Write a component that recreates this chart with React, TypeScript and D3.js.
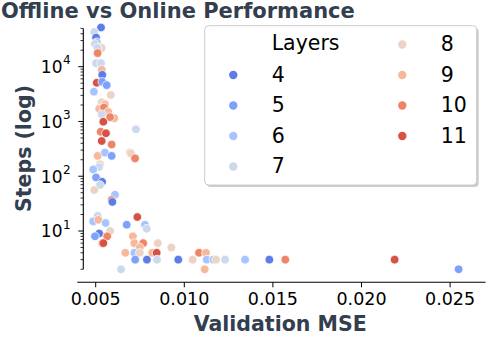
import React from "react";
import * as d3 from "d3";

const title = "Offline vs Online Performance";
const xLabel = "Validation MSE";
const yLabel = "Steps (log)";
const legendTitle = "Layers";
const layerLevels = [4, 5, 6, 7, 8, 9, 10, 11];
const layerColors = ["#5d7ce6", "#7ea1f9", "#a6c4fe", "#cbd8ee", "#ebd3c6", "#f7b89c", "#ee8468", "#d65244"];
const xTicks = [0.005, 0.01, 0.015, 0.02, 0.025];
const yMajorTicks = [10, 100, 1000, 10000];

// points: validation MSE, steps, layers
const mse = [
  0.0053, 0.00492, 0.00502, 0.00506, 0.00496, 0.00534, 0.00509, 0.00511, 0.00502, 0.0053,
  0.00534, 0.00537, 0.00506, 0.00537, 0.00562, 0.0049, 0.00585, 0.00534, 0.00552, 0.0052,
  0.00547, 0.00571, 0.00534, 0.00605, 0.00581, 0.00543, 0.00727, 0.00528, 0.00558, 0.00534,
  0.0059, 0.00511, 0.00552, 0.0059, 0.00524, 0.00519, 0.00486, 0.00502, 0.00536, 0.00524,
  0.00492, 0.00694, 0.00699, 0.00722, 0.00609, 0.0059, 0.00594, 0.00511, 0.00486, 0.00515,
  0.00556, 0.00675, 0.00735, 0.00778, 0.00788, 0.0052, 0.00496, 0.00581, 0.00565, 0.00534,
  0.00543, 0.0071, 0.00718, 0.00768, 0.00749, 0.0085, 0.00927, 0.00667, 0.00718, 0.00749,
  0.00819, 0.00844, 0.00723, 0.00789, 0.00846, 0.00966, 0.01047, 0.01083, 0.01122, 0.01126,
  0.01164, 0.01179, 0.0123, 0.01343, 0.0148, 0.0157, 0.02187, 0.02548, 0.00643, 0.01115,
];
const steps = [
  52000, 43000, 34000, 28000, 26000, 22000, 22000, 17700, 11600, 11600,
  8800, 7100, 5100, 5300, 4600, 3500, 3050, 2250, 2050, 1700,
  1800, 1500, 1350, 1150, 1200, 990, 720, 650, 610, 440,
  380, 235, 270, 235, 165, 148, 133, 95, 79, 69,
  56, 270, 260, 212, 46, 37, 34, 19, 15, 16,
  14, 13, 18, 13, 11, 9, 8, 10, 8, 6,
  6, 8, 6, 6, 5, 6, 5, 4, 4, 4,
  4, 4, 3, 3, 3, 3, 3, 4, 4, 3,
  3, 3, 3, 3, 3, 3, 3, 2, 2, 2,
];
const layers = [
  4, 7, 4, 6, 7, 8, 7, 10, 7, 7,
  9, 4, 11, 5, 5, 6, 8, 8, 9, 9,
  10, 9, 7, 9, 10, 11, 7, 10, 11, 11,
  10, 9, 6, 5, 8, 7, 6, 5, 4, 7,
  8, 9, 8, 10, 6, 10, 4, 7, 6, 9,
  6, 5, 11, 6, 7, 4, 5, 8, 10, 8,
  11, 9, 9, 10, 9, 8, 8, 9, 6, 8,
  9, 11, 5, 4, 7, 4, 8, 10, 9, 6,
  6, 8, 7, 6, 4, 10, 11, 5, 7, 9,
];

const FONT = "DejaVu Sans, sans-serif";
const TEXT_DARK = "#333e4e";

export default function App() {
  const x = d3.scaleLinear().domain([0.005, 0.025]).range([95.7, 450.1]);
  const y = d3.scaleLog().domain([10, 10000]).range([231, 66.7]);
  const color = d3.scaleOrdinal<number, string>().domain(layerLevels).range(layerColors);

  const xSpine = [0.00396, 0.027];
  const ySpine = [2, 50000];
  const yAll = d3.scaleLog().domain(ySpine).ticks();
  const yMinor = yAll.filter((t) => !yMajorTicks.includes(t));

  const spineX = 83.3;
  const spineY = 282.3;

  const points = mse.map((m, i) => ({ m, s: steps[i], l: layers[i] }));

  const legendCol1 = layerLevels.slice(0, 4);
  const legendCol2 = layerLevels.slice(4);
  const rowH = 30.5;

  return (
    <svg
      width={500}
      height={350}
      style={{ position: "absolute", left: 0, top: 0, background: "#fff" }}
      fontFamily={FONT}
    >
      <rect x={0} y={0} width={500} height={350} fill="#fff" />
      {/* title */}
      <text x={1} y={17.5} fontSize={21} fontWeight="bold" fill={TEXT_DARK}>
        {title}
      </text>

      {/* y spine and ticks */}
      <line x1={spineX} x2={spineX} y1={y(ySpine[1])} y2={y(ySpine[0])} stroke="#000" strokeWidth={1.1} />
      {yMajorTicks.map((t) => (
        <g key={"ym" + t}>
          <line x1={spineX - 5} x2={spineX} y1={y(t)} y2={y(t)} stroke="#000" strokeWidth={1} />
          <text x={62.5} y={y(t) + 6.3} fontSize={17} textAnchor="end" fill="#000">
            10
          </text>
          <text x={63} y={y(t) - 2.5} fontSize={12} textAnchor="start" fill="#000">
            {Math.round(Math.log10(t))}
          </text>
        </g>
      ))}
      {yMinor.map((t) => (
        <line key={"yn" + t} x1={spineX - 2.8} x2={spineX} y1={y(t)} y2={y(t)} stroke="#000" strokeWidth={0.8} />
      ))}

      {/* x spine and ticks */}
      <line x1={x(xSpine[0])} x2={x(xSpine[1])} y1={spineY} y2={spineY} stroke="#000" strokeWidth={1.1} />
      {xTicks.map((t) => (
        <g key={"xt" + t}>
          <line x1={x(t)} x2={x(t)} y1={spineY} y2={spineY + 5} stroke="#000" strokeWidth={1} />
          <text x={x(t)} y={305} fontSize={17.5} textAnchor="middle" fill="#000">
            {d3.format(".3f")(t)}
          </text>
        </g>
      ))}

      {/* axis labels */}
      <text x={280.2} y={331} fontSize={20.5} fontWeight="bold" textAnchor="middle" fill={TEXT_DARK}>
        {xLabel}
      </text>
      <text
        transform={`translate(30.7,148.5) rotate(-90)`}
        fontSize={20.5}
        fontWeight="bold"
        textAnchor="middle"
        fill={TEXT_DARK}
      >
        {yLabel}
      </text>

      {/* points */}
      {points.map((p, i) => (
        <circle key={i} cx={x(p.m)} cy={y(p.s)} r={4.3} fill={color(p.l)} stroke="#fff" strokeWidth={0.7} />
      ))}

      {/* legend */}
      <rect x={206.7} y={27.7} width={272} height={159.3} rx={4} fill="#999" opacity={0.5} />
      <rect x={204.7} y={25.7} width={272} height={159.3} rx={4} fill="#fff" stroke="#cccccc" strokeWidth={1} />
      <text x={271.7} y={50} fontSize={20.5} fill="#000">
        {legendTitle}
      </text>
      {legendCol1.map((l, i) => (
        <g key={"lc1" + l}>
          <circle cx={233.3} cy={75 + i * rowH} r={4.2} fill={color(l)} />
          <text x={271.7} y={81.5 + i * rowH} fontSize={20.5} fill="#000">
            {l}
          </text>
        </g>
      ))}
      {legendCol2.map((l, i) => (
        <g key={"lc2" + l}>
          <circle cx={402.3} cy={44.5 + i * rowH} r={4.2} fill={color(l)} />
          <text x={440.7} y={51 + i * rowH} fontSize={20.5} fill="#000">
            {l}
          </text>
        </g>
      ))}
    </svg>
  );
}
